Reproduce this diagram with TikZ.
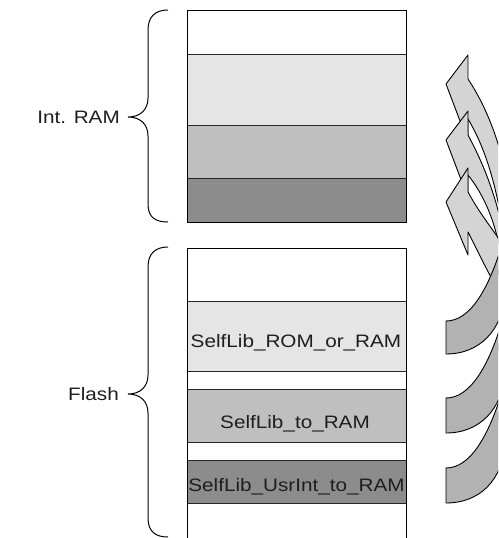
\documentclass[tikz,border=0pt]{standalone}
\usepackage{fontspec}
\setmainfont{Liberation Sans}
\newfontfamily\lblfont[FakeStretch=1.15]{Liberation Sans}
\definecolor{bandL}{RGB}{229,229,229}
\definecolor{bandM}{RGB}{191,191,191}
\definecolor{bandD}{RGB}{140,140,140}
\definecolor{arrL}{RGB}{212,212,212}
\definecolor{arrD}{RGB}{178,178,178}
\definecolor{txt}{RGB}{30,30,30}
\begin{document}
\begin{tikzpicture}[x=1pt,y=-1pt,
  sep/.style={draw=black!85,line width=0.9pt},
  frame/.style={draw=black,line width=1.3pt},
  lbl/.style={font=\lblfont\fontsize{18}{20}\selectfont,text=txt,inner sep=0pt},
  brace/.style={draw=black,line width=1pt},
  lightpart/.style={fill=arrL,draw=black,line width=0.9pt,line join=round},
  darkpart/.style={fill=arrD,draw=black,line width=0.9pt,line join=round}]
\useasboundingbox (0,0) rectangle (498,538);
\clip (0,0) rectangle (498,538);

% ---------- Int. RAM block ----------
\fill[white] (187,10) rectangle (406,54);
\fill[bandL] (187,54) rectangle (406,125);
\fill[bandM] (187,125) rectangle (406,178);
\fill[bandD] (187,178) rectangle (406,222);
\draw[sep] (187,54) -- (406,54);
\draw[sep] (187,125) -- (406,125);
\draw[sep] (187,178) -- (406,178);
\node[frame,anchor=north west,minimum width=219pt,minimum height=212pt,inner sep=0pt] (ram) at (187,10) {};

% ---------- Flash block ----------
\fill[white] (187,248) rectangle (406,560);
\fill[bandL] (187,301) rectangle (406,371);
\fill[bandM] (187,389) rectangle (406,442);
\fill[bandD] (187,460) rectangle (406,503);
\draw[sep] (187,301) -- (406,301);
\draw[sep] (187,371) -- (406,371);
\draw[sep] (187,389) -- (406,389);
\draw[sep] (187,442) -- (406,442);
\draw[sep] (187,460) -- (406,460);
\draw[sep] (187,503) -- (406,503);
\node[frame,anchor=north west,minimum width=219pt,minimum height=312pt,inner sep=0pt] (flash) at (187,248) {};

\node[lbl,anchor=base] (romram) at (296,347) {SelfLib\_ROM\_or\_RAM};
\node[lbl,anchor=base] (toram) at (295,428) {SelfLib\_to\_RAM};
\node[lbl,anchor=base] (usrint) at (296.5,491) {SelfLib\_UsrInt\_to\_RAM};

% ---------- braces and labels ----------
\draw[brace] (168,10) .. controls (156,10) and (148,16) .. (148,30) -- (148,98)
  .. controls (148,110) and (140,117) .. (128,117)
  .. controls (140,117) and (148,124) .. (148,136) -- (148,204)
  .. controls (148,218) and (156,222) .. (168,222);
\draw[brace] (168,247) .. controls (156,247) and (148,253) .. (148,267) -- (148,375)
  .. controls (148,387) and (140,394) .. (128,394)
  .. controls (140,394) and (148,401) .. (148,413) -- (148,518)
  .. controls (148,532) and (156,537) .. (168,537);
\node[lbl,anchor=base east] (ramlbl) at (120,123) {Int. RAM};
\node[lbl,anchor=base east] (flashlbl) at (119,400) {Flash};

% ---------- curved arrows (C bottom layer, A top layer) ----------
\path[lightpart] (468,79) .. controls (505,135) and (530,230) .. (506,392) -- (497,422)
  .. controls (520,300) and (505,180) .. (468,119) -- (468,142) -- (446,84) -- (468,55) -- cycle;
\path[darkpart] (446,468) .. controls (470,468) and (488,437) .. (502,392) -- (505,397) -- (505,445)
  .. controls (502,480) and (480,503) .. (446,503) -- cycle;
\path[lightpart] (468,135) .. controls (495,185) and (515,250) .. (506,322) -- (497,352)
  .. controls (512,280) and (500,215) .. (468,175) -- (468,198) -- (446,140) -- (468,111) -- cycle;
\path[darkpart] (446,398) .. controls (470,398) and (488,367) .. (502,322) -- (505,327) -- (505,374)
  .. controls (502,409) and (480,433) .. (446,433) -- cycle;
\path[lightpart] (468,192) .. controls (482,218) and (498,235) .. (504,248) -- (495,285)
  .. controls (486,268) and (476,248) .. (468,232) -- (468,255) -- (446,202) -- (468,168) -- cycle;
\path[darkpart] (446,321) .. controls (470,321) and (488,290) .. (502,245) -- (505,250) -- (505,295)
  .. controls (502,330) and (480,354) .. (446,354) -- cycle;
\end{tikzpicture}
\end{document}
